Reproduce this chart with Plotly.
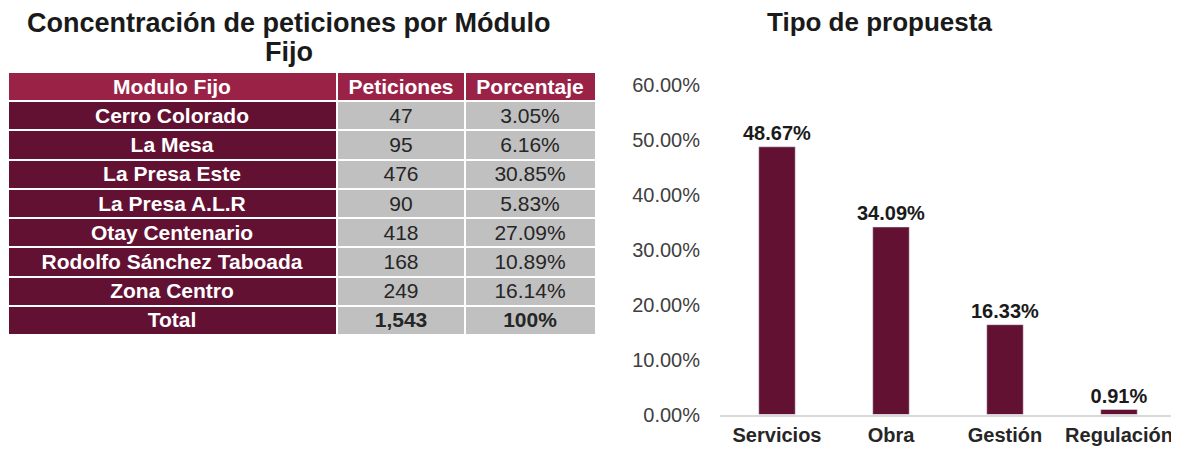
import plotly.graph_objects as go

# tabla de modulos
modulos = ["Cerro Colorado", "La Mesa", "La Presa Este", "La Presa A.L.R",
           "Otay Centenario", "Rodolfo Sánchez Taboada", "Zona Centro", "Total"]
peticiones = ["47", "95", "476", "90", "418", "168", "249", "1,543"]
porcentaje = ["3.05%", "6.16%", "30.85%", "5.83%", "27.09%", "10.89%", "16.14%", "100%"]
encabezados = ["Modulo Fijo", "Peticiones", "Porcentaje"]
ancho_columnas = [328, 128, 131]

# grafica de barras
tipos = ["Servicios", "Obra", "Gestión", "Regulación"]
valores = [0.4867, 0.3409, 0.1633, 0.0091]

GUINDA = "#621132"
ROJO = "#9b2247"
GRIS = "#c0c0c0"
FUENTE = "Liberation Sans, Arial, sans-serif"

# la pagina deja 8px de margen en el body
W, H, OFF = 1171, 444, 8


def px(x):
    return min(max((x - OFF) / W, 0), 1)


def py(y):
    return min(max(1 - (y - OFF) / H, 0), 1)


def celda(txt, color, bold):
    t = f"<b>{txt}</b>" if bold else txt
    return f"<span style='color:{color}'>{t}</span>"


# la tabla se arma como heatmap: 0 = guinda, 1 = gris, 2 = encabezado
filas = [encabezados] + [[m, p, c] for m, p, c in zip(modulos, peticiones, porcentaje)]
z, textos = [], []
for i, fila in enumerate(filas):
    if i == 0:
        z.append([2, 2, 2])
        textos.append([celda(v, "white", True) for v in fila])
    else:
        total = i == len(filas) - 1
        z.append([0, 1, 1])
        textos.append([celda(fila[0], "white", True),
                       celda(fila[1], "#262626", total),
                       celda(fila[2], "#262626", total)])

bordes_x = [0]
for w in ancho_columnas:
    bordes_x.append(bordes_x[-1] + w)

fig = go.Figure()

fig.add_trace(go.Heatmap(
    z=z, x=bordes_x, y=list(range(len(filas))),
    text=textos, texttemplate="%{text}",
    textfont=dict(family=FUENTE, size=21),
    colorscale=[[0, GUINDA], [0.33, GUINDA], [0.33, GRIS], [0.67, GRIS],
                [0.67, ROJO], [1, ROJO]],
    zmin=0, zmax=2, showscale=False, hoverinfo="skip",
    xgap=2, ygap=2,
    xaxis="x2", yaxis="y2",
))

fig.add_trace(go.Bar(
    x=tipos, y=valores,
    marker=dict(color=GUINDA),
    width=0.32,
    text=[f"{v:.2%}" for v in valores],
    textposition="outside",
    constraintext="none",
    textfont=dict(family=FUENTE, size=20, color="#1a1a1a", weight="bold"),
    cliponaxis=False,
    xaxis="x", yaxis="y",
))

titulo_kw = dict(xref="paper", yref="paper", xanchor="center", yanchor="middle",
                 showarrow=False)

fig.update_layout(
    width=W, height=H,
    margin=dict(l=0, r=0, t=0, b=0),
    paper_bgcolor="white", plot_bgcolor="white",
    font=dict(family=FUENTE),
    showlegend=False,
    xaxis=dict(
        domain=[px(720), px(1176)],
        showline=True, linecolor="#d9d9d9", linewidth=2,
        tickfont=dict(family=FUENTE, size=20, color="#262626", weight="bold"),
        ticklabelstandoff=1,
        showgrid=False, automargin=False, fixedrange=True,
    ),
    yaxis=dict(
        domain=[py(414.5), py(84.5)],
        range=[0, 0.6],
        dtick=0.1,
        tickformat=".2%",
        showgrid=False, zeroline=False,
        tickfont=dict(family=FUENTE, size=20, color="#404040"),
        ticklabelstandoff=19, automargin=False, fixedrange=True,
    ),
    xaxis2=dict(
        domain=[px(8), px(596)], range=[0, bordes_x[-1]],
        showticklabels=False, showgrid=False, zeroline=False,
        automargin=False, fixedrange=True,
    ),
    yaxis2=dict(
        domain=[py(335), py(72)], range=[len(filas) - 0.5, -0.5],
        showticklabels=False, showgrid=False, zeroline=False,
        automargin=False, fixedrange=True,
    ),
    annotations=[
        dict(text="<b>Concentración de peticiones por Módulo</b>",
             x=px(289), y=py(23), font=dict(family=FUENTE, size=27, color="#1a1a1a"),
             **titulo_kw),
        dict(text="<b>Fijo</b>",
             x=px(289), y=py(52), font=dict(family=FUENTE, size=27, color="#1a1a1a"),
             **titulo_kw),
        dict(text="<b>Tipo de propuesta</b>",
             x=px(879), y=py(22), font=dict(family=FUENTE, size=26, color="#1a1a1a"),
             **titulo_kw),
    ],
)

fig.write_html("out.html")
